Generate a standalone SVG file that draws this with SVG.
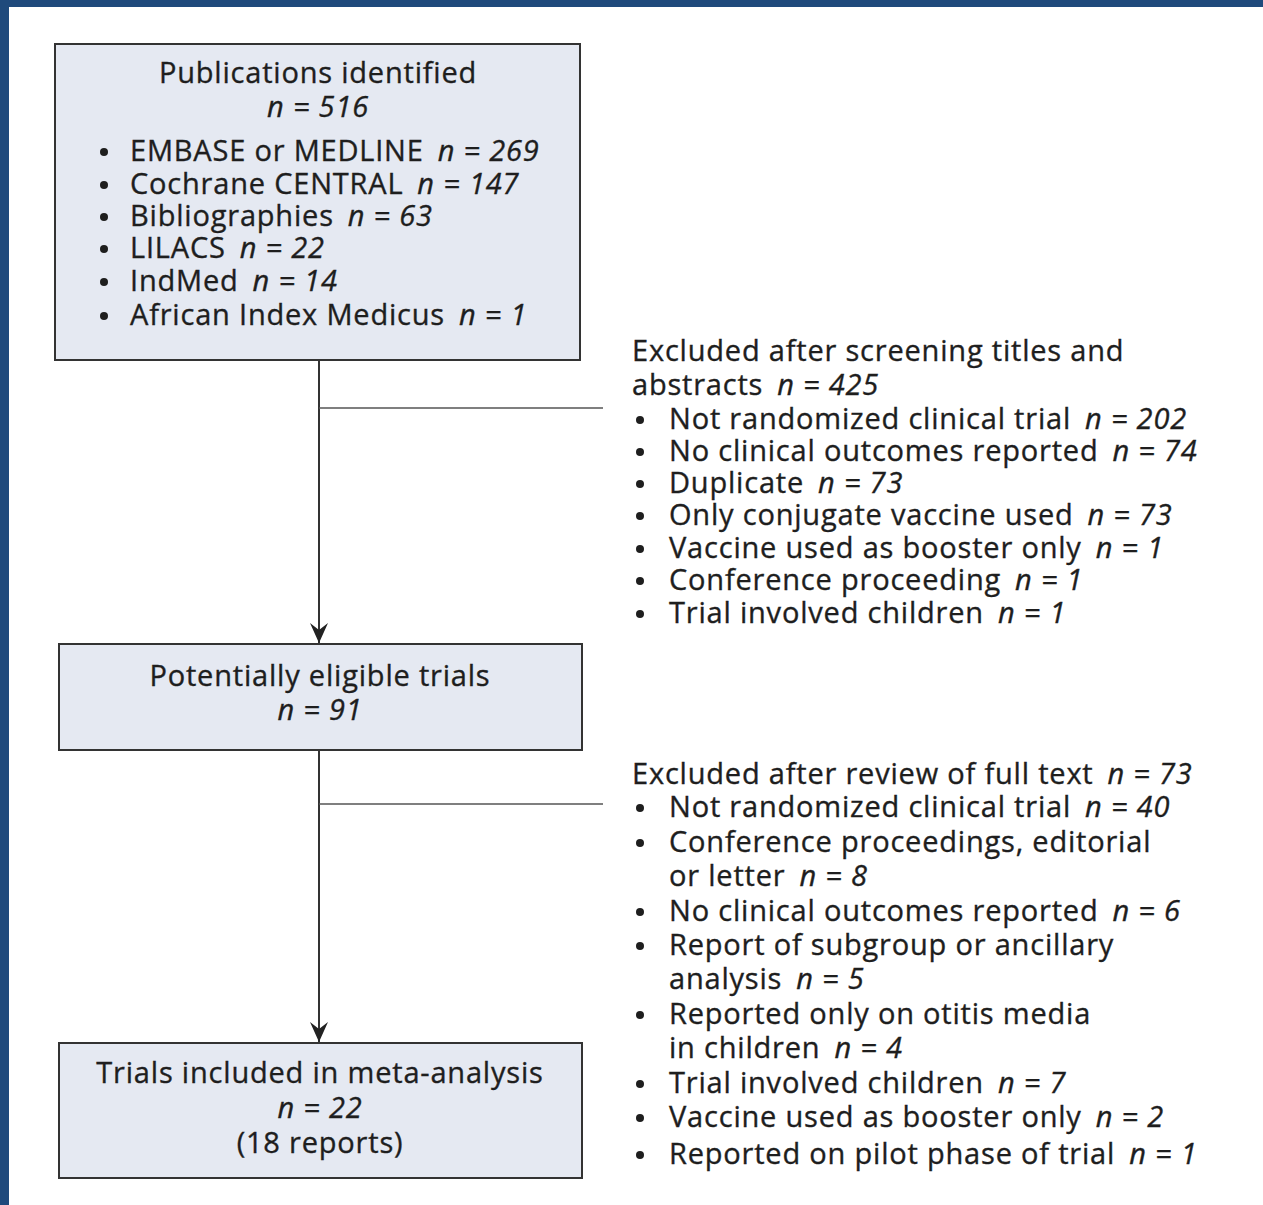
<svg xmlns="http://www.w3.org/2000/svg" width="1263" height="1205" viewBox="0 0 1263 1205">
  <style>
    .box { fill: #e5e9f2; stroke: #333; stroke-width: 2; }
    .t { font-family: "Open Sans", "Liberation Sans", sans-serif; font-size: 29px; letter-spacing: 0.8px; fill: #1e1e1e; stroke: #1e1e1e; stroke-width: 0.35px; }
    .c { text-anchor: middle; }
    .i { font-style: italic; }
    .dot { fill: #1e1e1e; stroke: none; }
    .line { stroke: #333; stroke-width: 2; fill: none; }
    .thin { stroke: #555; stroke-width: 1.5; fill: none; }
  </style>
  <defs>
    <marker id="arrow" viewBox="0 0 20 18" refX="20" refY="9" markerWidth="20" markerHeight="18" markerUnits="userSpaceOnUse" orient="auto">
      <path d="M0,0 L7,9 L0,18 L20,9 Z" fill="#222"/>
    </marker>
  </defs>

  <!-- page frame -->
  <rect x="0" y="0" width="1263" height="1205" fill="#ffffff"/>
  <rect x="0" y="0" width="1263" height="7" fill="#1f4a7c"/>
  <rect x="0" y="0" width="9" height="1205" fill="#1f4a7c"/>

  <!-- connectors -->
  <g id="connectors">
    <line class="line" x1="319" y1="360" x2="319" y2="643" marker-end="url(#arrow)"/>
    <line class="thin" x1="319" y1="408" x2="603" y2="408"/>
    <line class="line" x1="319" y1="750" x2="319" y2="1042" marker-end="url(#arrow)"/>
    <line class="thin" x1="319" y1="804" x2="603" y2="804"/>
  </g>

  <!-- identified publications -->
  <g id="node-identified">
    <rect class="box" x="55" y="44" width="525" height="316"/>
    <text class="t c" x="318" y="83">Publications identified</text>
    <text class="t c i" x="318" y="117">n = 516</text>
    <g class="t">
      <circle class="dot" cx="104" cy="152" r="4"/>
      <text x="130" y="161">EMBASE or MEDLINE<tspan class="i" dx="14">n = 269</tspan></text>
      <circle class="dot" cx="104" cy="185" r="4"/>
      <text x="130" y="194">Cochrane CENTRAL<tspan class="i" dx="14">n = 147</tspan></text>
      <circle class="dot" cx="104" cy="217" r="4"/>
      <text x="130" y="226">Bibliographies<tspan class="i" dx="14">n = 63</tspan></text>
      <circle class="dot" cx="104" cy="249" r="4"/>
      <text x="130" y="258">LILACS<tspan class="i" dx="14">n = 22</tspan></text>
      <circle class="dot" cx="104" cy="282" r="4"/>
      <text x="130" y="291">IndMed<tspan class="i" dx="14">n = 14</tspan></text>
      <circle class="dot" cx="104" cy="316" r="4"/>
      <text x="130" y="325">African Index Medicus<tspan class="i" dx="14">n = 1</tspan></text>
    </g>
  </g>

  <!-- first exclusion list -->
  <g id="node-excluded-screening" class="t">
    <text x="632" y="361">Excluded after screening titles and</text>
    <text x="632" y="395">abstracts<tspan class="i" dx="14">n = 425</tspan></text>
    <circle class="dot" cx="640" cy="420" r="4"/>
    <text x="669" y="429">Not randomized clinical trial<tspan class="i" dx="14">n = 202</tspan></text>
    <circle class="dot" cx="640" cy="452" r="4"/>
    <text x="669" y="461">No clinical outcomes reported<tspan class="i" dx="14">n = 74</tspan></text>
    <circle class="dot" cx="640" cy="484" r="4"/>
    <text x="669" y="493">Duplicate<tspan class="i" dx="14">n = 73</tspan></text>
    <circle class="dot" cx="640" cy="516" r="4"/>
    <text x="669" y="525">Only conjugate vaccine used<tspan class="i" dx="14">n = 73</tspan></text>
    <circle class="dot" cx="640" cy="549" r="4"/>
    <text x="669" y="558">Vaccine used as booster only<tspan class="i" dx="14">n = 1</tspan></text>
    <circle class="dot" cx="640" cy="581" r="4"/>
    <text x="669" y="590">Conference proceeding<tspan class="i" dx="14">n = 1</tspan></text>
    <circle class="dot" cx="640" cy="614" r="4"/>
    <text x="669" y="623">Trial involved children<tspan class="i" dx="14">n = 1</tspan></text>
  </g>

  <!-- potentially eligible -->
  <g id="node-eligible">
    <rect class="box" x="59" y="644" width="523" height="106"/>
    <text class="t c" x="320" y="686">Potentially eligible trials</text>
    <text class="t c i" x="320" y="720">n = 91</text>
  </g>

  <!-- second exclusion list -->
  <g id="node-excluded-fulltext" class="t">
    <text x="632" y="784">Excluded after review of full text<tspan class="i" dx="14">n = 73</tspan></text>
    <circle class="dot" cx="640" cy="808" r="4"/>
    <text x="669" y="817">Not randomized clinical trial<tspan class="i" dx="14">n = 40</tspan></text>
    <circle class="dot" cx="640" cy="843" r="4"/>
    <text x="669" y="852">Conference proceedings, editorial</text>
    <text x="669" y="886">or letter<tspan class="i" dx="14">n = 8</tspan></text>
    <circle class="dot" cx="640" cy="912" r="4"/>
    <text x="669" y="921">No clinical outcomes reported<tspan class="i" dx="14">n = 6</tspan></text>
    <circle class="dot" cx="640" cy="946" r="4"/>
    <text x="669" y="955">Report of subgroup or ancillary</text>
    <text x="669" y="989">analysis<tspan class="i" dx="14">n = 5</tspan></text>
    <circle class="dot" cx="640" cy="1015" r="4"/>
    <text x="669" y="1024">Reported only on otitis media</text>
    <text x="669" y="1058">in children<tspan class="i" dx="14">n = 4</tspan></text>
    <circle class="dot" cx="640" cy="1084" r="4"/>
    <text x="669" y="1093">Trial involved children<tspan class="i" dx="14">n = 7</tspan></text>
    <circle class="dot" cx="640" cy="1118" r="4"/>
    <text x="669" y="1127">Vaccine used as booster only<tspan class="i" dx="14">n = 2</tspan></text>
    <circle class="dot" cx="640" cy="1155" r="4"/>
    <text x="669" y="1164">Reported on pilot phase of trial<tspan class="i" dx="14">n = 1</tspan></text>
  </g>

  <!-- included trials -->
  <g id="node-included">
    <rect class="box" x="59" y="1043" width="523" height="135"/>
    <text class="t c" x="320" y="1083">Trials included in meta-analysis</text>
    <text class="t c i" x="320" y="1118">n = 22</text>
    <text class="t c" x="320" y="1153">(18 reports)</text>
  </g>
</svg>
